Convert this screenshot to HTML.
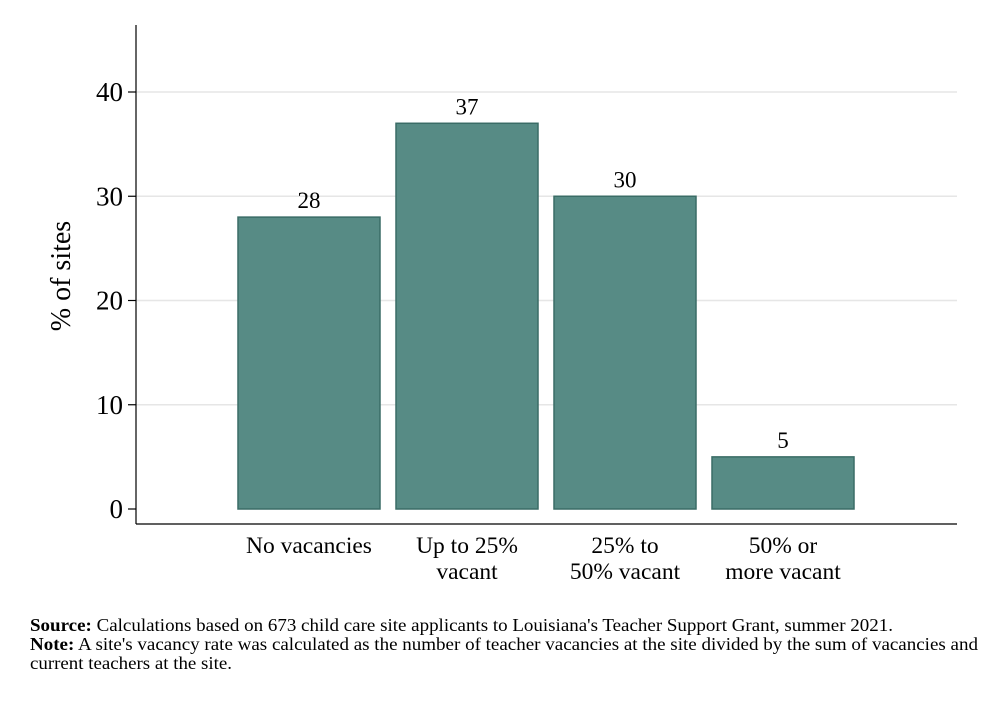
<!DOCTYPE html>
<html><head><meta charset="utf-8"><style>
body{margin:0;background:#fff;}
svg text{font-family:"Liberation Serif",serif;fill:#000;}
</style></head><body>
<svg width="982" height="702" xmlns="http://www.w3.org/2000/svg">
<rect width="982" height="702" fill="#fff"/>
<g id="grid"></g>
<g id="bars"></g>
<g id="yaxis"></g>
<g id="xaxis"></g>
<text transform="translate(70,276) rotate(-90)" text-anchor="middle" font-size="28">% of sites</text>
<text x="30" y="631" font-size="17.5" textLength="863" lengthAdjust="spacingAndGlyphs"><tspan font-weight="bold">Source:</tspan> Calculations based on 673 child care site applicants to Louisiana's Teacher Support Grant, summer 2021.</text>
<text x="30" y="650" font-size="17.5" textLength="948" lengthAdjust="spacingAndGlyphs"><tspan font-weight="bold">Note:</tspan> A site's vacancy rate was calculated as the number of teacher vacancies at the site divided by the sum of vacancies and</text>
<text x="30" y="669" font-size="17.5" textLength="202" lengthAdjust="spacingAndGlyphs">current teachers at the site.</text>
</svg>
<script>
const categories=[["No vacancies"],["Up to 25%","vacant"],["25% to","50% vacant"],["50% or","more vacant"]];
const values=[28,37,30,5];
const yTicks=[0,10,20,30,40];
const NS="http://www.w3.org/2000/svg";
const y0=509, pxPerUnit=10.425;
const yS=v=>y0-v*pxPerUnit;
const xS=i=>309+i*158;
const bw=142;
function mk(t,a,p){const e=document.createElementNS(NS,t);for(const k in a)e.setAttribute(k,a[k]);p.appendChild(e);return e;}
const grid=document.getElementById('grid'),bars=document.getElementById('bars'),ya=document.getElementById('yaxis'),xa=document.getElementById('xaxis');
yTicks.forEach(v=>{
 if(v>0){const g=mk('line',{x1:136,x2:957,y1:yS(v),y2:yS(v),stroke:'#e6e6e6','stroke-width':1.5},grid);
 
 }
 const t=mk('line',{x1:128,x2:136,y1:yS(v),y2:yS(v),stroke:'#000','stroke-width':1.2},ya);
 
 
 const l=mk('text',{x:123,y:yS(v)+9,'text-anchor':'end','font-size':27},ya);l.textContent=v;
 
 
});
mk('line',{x1:136,x2:136,y1:25,y2:524,stroke:'#000','stroke-width':1.2},ya);
mk('line',{x1:136,x2:957,y1:524,y2:524,stroke:'#000','stroke-width':1.2},xa);
values.forEach((v,i)=>{
 const cx=xS(i);
 const r=mk('rect',{x:cx-bw/2,y:yS(v),width:bw,height:y0-yS(v),fill:'#578b85',stroke:'#3a6c66','stroke-width':1.5},bars);
 
 
 const t=mk('text',{x:cx,y:yS(v)-9,'text-anchor':'middle','font-size':23},bars);t.textContent=v;
 
 
 categories[i].forEach((s,j)=>{
  const c=mk('text',{x:cx,y:553+j*26,'text-anchor':'middle','font-size':23.5},xa);c.textContent=s;
  
  
 });
});
</script>
</body></html>
